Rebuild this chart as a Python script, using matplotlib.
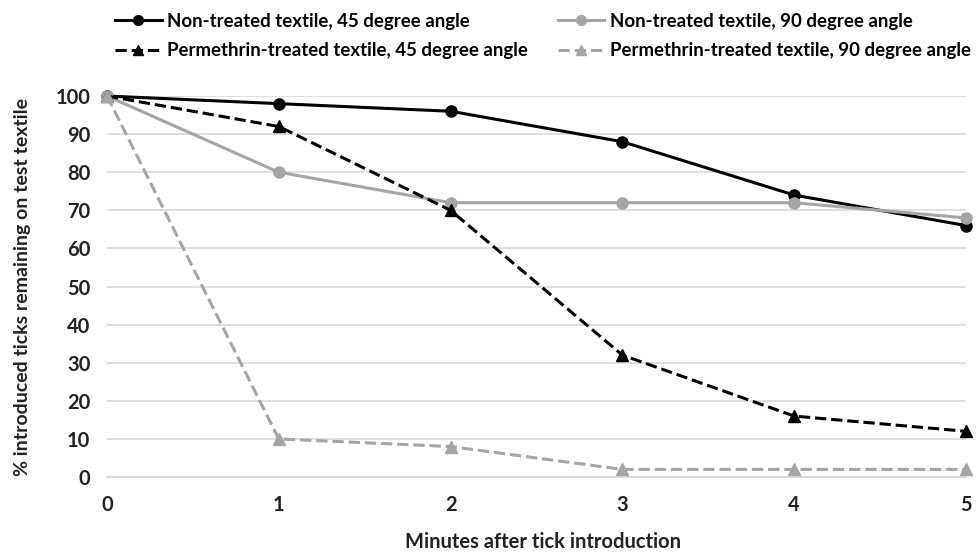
import matplotlib.pyplot as plt
from matplotlib.lines import Line2D

plt.rcParams['font.family'] = ['Lato', 'DejaVu Sans']
plt.rcParams['font.weight'] = 'bold'
plt.rcParams['axes.labelweight'] = 'bold'

minutes = [0, 1, 2, 3, 4, 5]
non_treated_45 = [100, 98, 96, 88, 74, 66]
non_treated_90 = [100, 80, 72, 72, 72, 68]
permethrin_45 = [100, 92, 70, 32, 16, 12]
permethrin_90 = [100, 10, 8, 2, 2, 2]

labels = [
    "Non-treated textile, 45 degree angle",
    "Non-treated textile, 90 degree angle",
    "Permethrin-treated textile, 45 degree angle",
    "Permethrin-treated textile, 90 degree angle",
]

BLACK = "#000000"
GRAY = "#a5a5a5"
TEXT = "#222222"

fig = plt.figure(figsize=(9.78, 5.55), dpi=100)
ax = fig.add_axes([0.1094, 0.1405, 0.8783, 0.6865])

styles = [
    (non_treated_45, BLACK, "-", "o"),
    (non_treated_90, GRAY, "-", "o"),
    (permethrin_45, BLACK, "--", "^"),
    (permethrin_90, GRAY, "--", "^"),
]
handles = []
for (vals, col, ls, mk), lab in zip(styles, labels):
    ax.plot(minutes, vals, color=col, linestyle=ls, linewidth=2.2,
            marker=mk, markersize=8, clip_on=False, zorder=3)
    handles.append(Line2D([0], [0], color=col, linestyle=ls, linewidth=2.2,
                          marker=mk, markersize=7, label=lab))

ax.set_xlim(0, 5)
ax.set_ylim(0, 100)
ax.set_yticks(range(0, 101, 10))
ax.set_xticks(minutes)
ax.grid(axis="y", color="#d9d9d9", linewidth=1.2)
ax.set_axisbelow(True)
for s in ["top", "right", "left"]:
    ax.spines[s].set_visible(False)
ax.spines["bottom"].set_color("#d9d9d9")
ax.spines["bottom"].set_linewidth(1.5)
ax.tick_params(length=0, labelsize=14.5, colors=TEXT)
ax.tick_params(axis="x", pad=13)
ax.tick_params(axis="y", pad=12)
for t in ax.get_xticklabels() + ax.get_yticklabels():
    t.set_fontweight("bold")

ax.set_xlabel("Minutes after tick introduction", fontsize=14.5, color=TEXT,
              fontweight="bold")
ax.xaxis.set_label_coords(0.5076, -0.145)
ax.set_ylabel("% introduced ticks remaining on test textile", fontsize=14,
              color=TEXT, fontweight="bold")
ax.yaxis.set_label_coords(-0.088, 0.5)

order = [0, 2, 1, 3]
fig.legend([handles[i] for i in order], [labels[i] for i in order],
           loc="upper left", bbox_to_anchor=(0.11, 0.99), ncol=2,
           frameon=False, handlelength=2.5, handletextpad=0.3,
           columnspacing=1.6, labelspacing=0.65, borderaxespad=0,
           prop={"weight": "bold", "size": 13.4})

fig.savefig("out.png", dpi=100)
